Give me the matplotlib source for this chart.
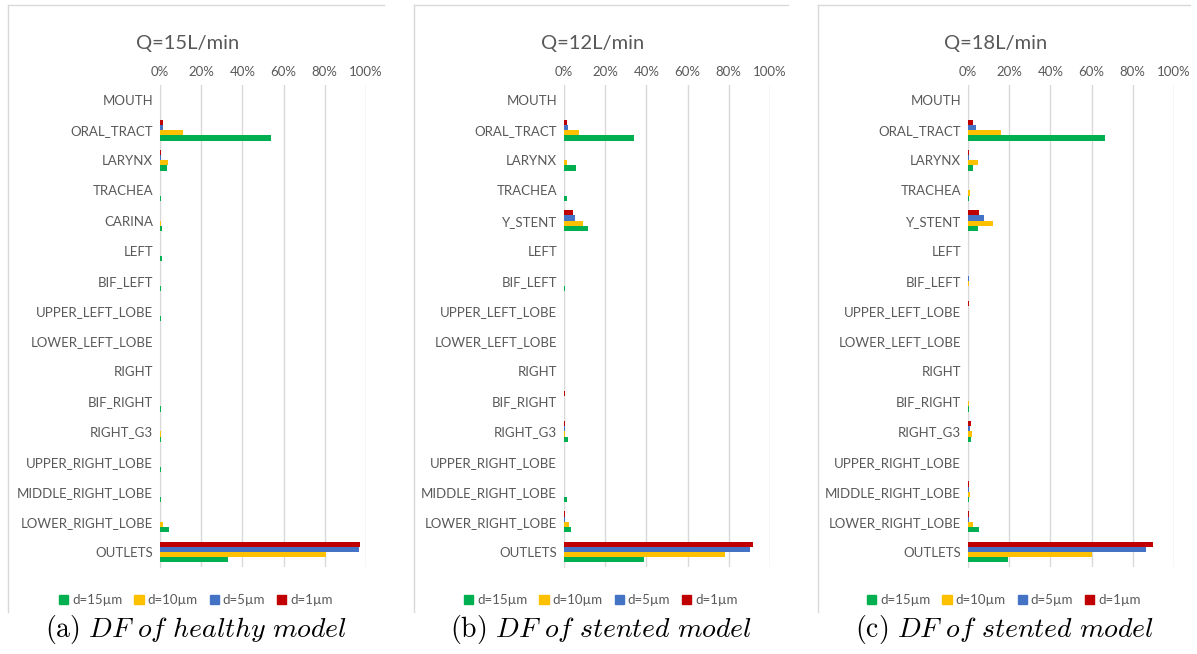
import numpy as np
import matplotlib
matplotlib.use("Agg")
import matplotlib.pyplot as plt
from matplotlib.lines import Line2D
from matplotlib.patches import Patch

# deposition fraction (%) per airway region
CATS_HEALTHY = ["MOUTH", "ORAL_TRACT", "LARYNX", "TRACHEA", "CARINA", "LEFT", "BIF_LEFT",
                "UPPER_LEFT_LOBE", "LOWER_LEFT_LOBE", "RIGHT", "BIF_RIGHT", "RIGHT_G3",
                "UPPER_RIGHT_LOBE", "MIDDLE_RIGHT_LOBE", "LOWER_RIGHT_LOBE", "OUTLETS"]
CATS_STENTED = ["MOUTH", "ORAL_TRACT", "LARYNX", "TRACHEA", "Y_STENT", "LEFT", "BIF_LEFT",
                "UPPER_LEFT_LOBE", "LOWER_LEFT_LOBE", "RIGHT", "BIF_RIGHT", "RIGHT_G3",
                "UPPER_RIGHT_LOBE", "MIDDLE_RIGHT_LOBE", "LOWER_RIGHT_LOBE", "OUTLETS"]

# Q = 15 L/min, healthy
A_D15 = [0, 53.7, 3.2, 0.3, 0.8, 0.8, 0.5, 0.6, 0.2, 0.2, 0.6, 0.6, 0.3, 0.6, 4.4, 32.8]
A_D10 = [0, 11.0, 3.7, 0.1, 0.3, 0.1, 0.1, 0.1, 0.1, 0.1, 0.1, 0.3, 0.1, 0.2, 1.3, 80.7]
A_D5 = [0, 1.6, 0.3, 0.1, 0.1, 0.0, 0.0, 0.0, 0.0, 0.0, 0.0, 0.1, 0.0, 0.1, 0.2, 96.4]
A_D1 = [0, 1.3, 0.3, 0.1, 0.1, 0.0, 0.0, 0.0, 0.0, 0.0, 0.0, 0.1, 0.0, 0.1, 0.2, 97.2]

# Q = 12 L/min, stented
B_D15 = [0, 33.9, 6.0, 1.5, 11.6, 0.1, 0.3, 0.2, 0.2, 0.1, 0.2, 1.8, 0.2, 1.6, 3.5, 38.6]
B_D10 = [0, 7.5, 1.5, 0.2, 9.1, 0.0, 0.2, 0.1, 0.1, 0.0, 0.1, 0.3, 0.1, 0.2, 2.2, 78.0]
B_D5 = [0, 1.8, 0.2, 0.1, 5.1, 0.0, 0.1, 0.0, 0.0, 0.0, 0.2, 0.3, 0.0, 0.1, 0.5, 90.2]
B_D1 = [0, 1.5, 0.2, 0.1, 4.6, 0.0, 0.1, 0.0, 0.0, 0.0, 0.3, 0.5, 0.0, 0.1, 0.5, 91.8]

# Q = 18 L/min, stented
C_D15 = [0, 66.7, 2.6, 0.5, 4.7, 0.0, 0.2, 0.2, 0.2, 0.0, 0.3, 1.5, 0.2, 0.5, 5.5, 19.2]
C_D10 = [0, 16.0, 5.0, 0.8, 12.0, 0.0, 0.6, 0.2, 0.1, 0.0, 0.3, 1.7, 0.1, 1.2, 2.6, 60.0]
C_D5 = [0, 3.7, 0.3, 0.1, 7.9, 0.0, 0.3, 0.2, 0.1, 0.0, 0.2, 0.8, 0.1, 0.3, 0.3, 86.5]
C_D1 = [0, 2.3, 0.3, 0.1, 5.5, 0.0, 0.1, 0.3, 0.1, 0.0, 0.2, 1.5, 0.1, 0.3, 0.5, 90.0]

TITLES = ["Q=15L/min", "Q=12L/min", "Q=18L/min"]
CAPTIONS = [r"$\mathrm{(a)}\ \mathit{DF\ of\ healthy\ model}$",
            r"$\mathrm{(b)}\ \mathit{DF\ of\ stented\ model}$",
            r"$\mathrm{(c)}\ \mathit{DF\ of\ stented\ model}$"]
SERIES = ["d=15µm", "d=10µm", "d=5µm", "d=1µm"]
COLORS = ["#00B050", "#FFC000", "#4472C4", "#C00000"]

plt.rcParams["font.family"] = ["Lato", "DejaVu Sans"]
plt.rcParams["mathtext.fontset"] = "cm"

W, H = 1197, 654
fig = plt.figure(figsize=(W / 100, H / 100), dpi=100)

panels = [
    (CATS_HEALTHY, [A_D15, A_D10, A_D5, A_D1]),
    (CATS_STENTED, [B_D15, B_D10, B_D5, B_D1]),
    (CATS_STENTED, [C_D15, C_D10, C_D5, C_D1]),
]
axes_x0 = [160, 564, 968]
frame_x = [(8, 384), (414, 788), (818, 1190)]
grid_c = "#D9D9D9"
text_c = "#595959"
bh = 0.172
# offsets inside a group: d=15 lowest, d=1 on top
offsets = [1.5 * bh, 0.5 * bh, -0.5 * bh, -1.5 * bh]

for i, (cats, vals) in enumerate(panels):
    x0 = axes_x0[i]
    ax = fig.add_axes([x0 / W, 1 - 567 / H, 206 / W, 482 / H])
    y = np.arange(len(cats))
    for v, off, c, lab in zip(vals, offsets, COLORS, SERIES):
        ax.barh(y + off, v, height=bh, color=c, label=lab, zorder=3)
    ax.set_xlim(0, 100)
    ax.set_ylim(len(cats) - 0.5, -0.5)
    ax.set_xticks(np.arange(0, 101, 20))
    ax.set_xticklabels([f"{t}%" for t in range(0, 101, 20)])
    ax.xaxis.tick_top()
    ax.set_yticks(y)
    ax.set_yticklabels(cats)
    ax.tick_params(length=0, labelsize=9.5, colors=text_c)
    ax.tick_params(axis="x", pad=5)
    ax.tick_params(axis="y", pad=5)
    ax.grid(axis="x", color=grid_c, linewidth=1, zorder=0)
    for s in ["top", "right", "bottom"]:
        ax.spines[s].set_visible(False)
    ax.spines["left"].set_color(grid_c)

    fx0, fx1 = frame_x[i]
    fig.add_artist(Line2D([fx0 / W, fx1 / W], [1 - 5 / H, 1 - 5 / H], color=grid_c, lw=1))
    fig.add_artist(Line2D([fx0 / W, fx0 / W], [1 - 5 / H, 1 - 612 / H], color=grid_c, lw=1))

    cx = (fx0 + fx1) / 2
    fig.text((cx - 8) / W, 1 - 44 / H, TITLES[i], ha="center", va="center",
             fontsize=14.5, color=text_c)
    handles = [Patch(color=c) for c in COLORS]
    fig.legend(handles, SERIES, loc="center", bbox_to_anchor=(cx / W, 1 - 600 / H),
               ncol=4, frameon=False, fontsize=9.5, handlelength=0.7, handleheight=0.7,
               handletextpad=0.3, columnspacing=0.9, labelcolor=text_c)
    fig.text(cx / W, 1 - 629 / H, CAPTIONS[i], ha="center", va="center",
             fontsize=20, color="black")

fig.savefig("out.png", dpi=100, facecolor="white")
